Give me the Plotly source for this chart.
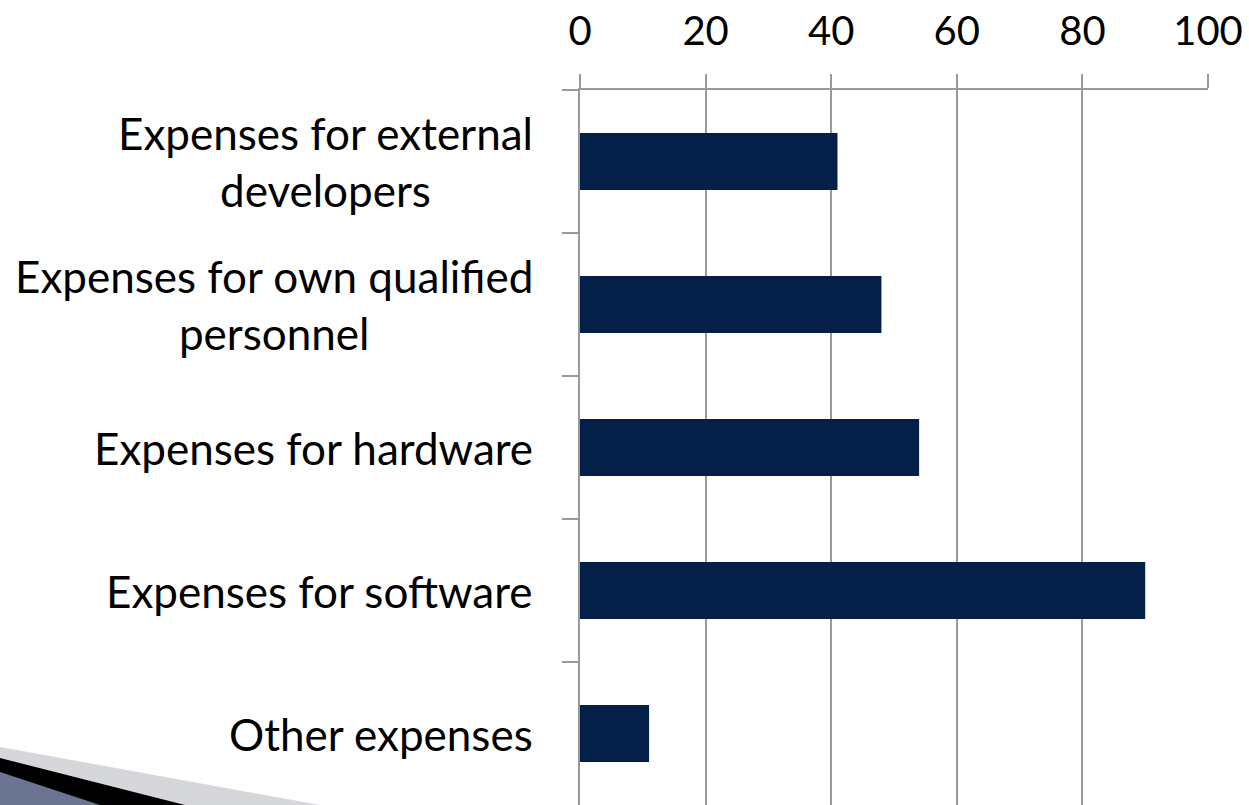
import plotly.graph_objects as go

categories = [
    "Expenses for external<br>developers",
    "Expenses for own qualified<br>personnel",
    "Expenses for hardware",
    "Expenses for software",
    "Other expenses",
]
values = [41, 48, 54, 90, 11]
x_ticks = [0, 20, 40, 60, 80, 100]

FONT = "Lato"
FS = 44
GRID = "#9a9a9a"

W, H = 1249, 805
L, T, B = 580, 90, 0
R = W - 1208

fig = go.Figure()
fig.add_trace(go.Bar(
    y=categories, x=values, orientation="h",
    marker=dict(color="#052048", line=dict(width=0)),
    showlegend=False,
))

for c in categories:
    fig.add_annotation(
        x=0, xref="paper", y=c, yref="y",
        text=c, showarrow=False, xanchor="right", yanchor="middle",
        align="center", xshift=-45,
        font=dict(family=FONT, size=FS, color="black"),
    )

# decorative swoosh bottom-left (paper coords, from page pixels)
pw, ph = W - L - R, H - T - B
def px(xp): return (xp - L) / pw
def py(yp): return (H - B - yp) / ph
def poly(pts, color):
    d = "M " + " L ".join(f"{px(a)},{py(b)}" for a, b in pts) + " Z"
    fig.add_shape(type="path", path=d, xref="paper", yref="paper",
                  fillcolor=color, line=dict(width=0), layer="above")
poly([(0, 747), (320, 805), (0, 805)], "#d6d7db")
poly([(0, 758), (185, 805), (0, 805)], "#000000")
poly([(0, 772), (100, 805), (0, 805)], "#6b7591")

fig.update_layout(
    width=W, height=H,
    margin=dict(l=L, r=R, t=T, b=B, autoexpand=False),
    paper_bgcolor="white", plot_bgcolor="white",
    bargap=0.6,
    font=dict(family=FONT, size=FS, color="black"),
    xaxis=dict(
        side="top", range=[0, 100], tickvals=x_ticks,
        ticktext=[str(v) for v in x_ticks],
        showgrid=True, gridcolor=GRID, gridwidth=1.5,
        ticks="outside", ticklen=14, tickcolor=GRID, tickwidth=1.5,
        showline=True, linecolor=GRID, linewidth=1.5,
        zeroline=False, ticklabelstandoff=13, automargin=False,
        ticklabeloverflow="allow",
        tickfont=dict(family=FONT, size=40, color="black"),
    ),
    yaxis=dict(
        type="category", categoryorder="array", categoryarray=categories,
        autorange="reversed", showticklabels=False, automargin=False,
        ticks="outside", tickson="boundaries", ticklen=16,
        tickcolor=GRID, tickwidth=1.5,
        showline=True, linecolor=GRID, linewidth=1.5,
        showgrid=False, zeroline=False,
    ),
)

fig.write_html(
    "out.html",
    config={"displayModeBar": False},
    post_script="document.body.style.margin='0';document.body.style.overflow='hidden';",
)
